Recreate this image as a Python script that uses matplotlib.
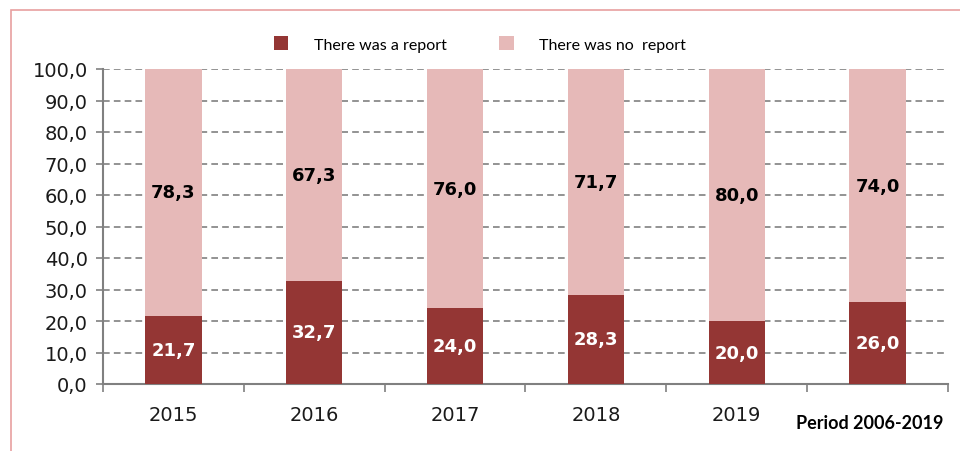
import matplotlib
matplotlib.use("Agg")
import matplotlib.pyplot as plt
from matplotlib.patches import Rectangle
import numpy as np

plt.rcParams["font.family"] = ["DejaVu Sans"]

years = ["2015", "2016", "2017", "2018", "2019", ""]
report = [21.7, 32.7, 24.0, 28.3, 20.0, 26.0]
no_report = [78.3, 67.3, 76.0, 71.7, 80.0, 74.0]

dark_red = "#943634"
pink = "#E6B9B8"

fig = plt.figure(figsize=(9.6, 4.52), dpi=100)
fig.patches.append(Rectangle((11 / 960, -0.1), 1.2, 1 - 11 / 452 + 0.1,
                             transform=fig.transFigure, fill=False,
                             edgecolor="#E8A0A0", linewidth=1.2))

ax = fig.add_axes([103 / 960, 1 - 385 / 452, 845 / 960, 315 / 452])
x = np.arange(len(years))
w = 0.40
b1 = ax.bar(x, report, w, color=dark_red, label="There was a report", zorder=3)
b2 = ax.bar(x, no_report, w, bottom=report, color=pink,
            label="There was no  report", zorder=3)

fmt = lambda v: f"{v:.1f}".replace(".", ",")
for i in range(len(x)):
    ax.text(x[i], report[i] / 2, fmt(report[i]), ha="center", va="center",
            color="white", fontsize=13, fontweight="bold", zorder=4)
    ax.text(x[i], report[i] + no_report[i] / 2, fmt(no_report[i]),
            ha="center", va="center", color="black", fontsize=13,
            fontweight="bold", zorder=4)

ax.set_xlim(-0.5, len(x) - 0.5)
ax.set_ylim(0, 100)
yt = np.arange(0, 101, 10)
ax.set_yticks(yt)
ax.set_yticklabels([fmt(v) for v in yt], fontsize=14, color="#1a1a1a")
ax.set_xticks(x)
ax.set_xticklabels(years, fontsize=14, color="#1a1a1a")
ax.tick_params(axis="x", length=0, pad=15)
ax.set_xticks(np.arange(-0.5, len(x), 1), minor=True)
ax.tick_params(axis="x", which="minor", length=6, color="#808080", width=1.2)
ax.tick_params(axis="y", length=5, color="#808080", width=1.2, pad=6)

ax.grid(axis="y", linestyle=(0, (4, 2.5)), color="#808080", linewidth=1.2, zorder=0)
for s in ["top", "right"]:
    ax.spines[s].set_visible(False)
for s in ["left", "bottom"]:
    ax.spines[s].set_color("#808080")
    ax.spines[s].set_linewidth(1.5)

leg = fig.legend(handles=[b1, b2], loc="center", bbox_to_anchor=(0.5, 1 - 45 / 452),
                 ncol=2, frameon=False, handlelength=0.9, handleheight=0.9,
                 handletextpad=1.6, columnspacing=3.3,
                 prop={"family": "Lato", "size": 11.5})

fig.text(870 / 960, 1 - 424 / 452, "Period 2006-2019", ha="center", va="center",
         fontsize=13, fontweight="bold", family="Lato")

fig.savefig("out.png", dpi=100)
